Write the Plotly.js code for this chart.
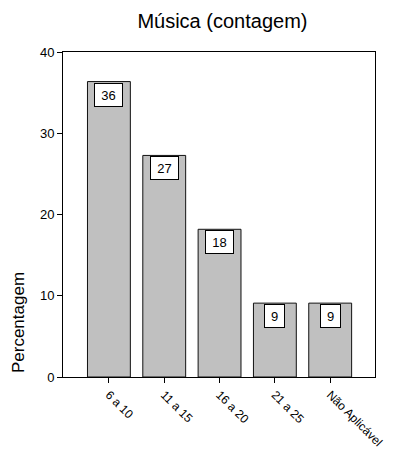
<!DOCTYPE html>
<html>
<head>
<meta charset="utf-8">
<script src="https://cdn.plot.ly/plotly-3.0.1.min.js"></script>
<style>html,body{margin:0;padding:0;background:#fff;}#chart{width:397px;height:450px;}</style>
</head>
<body>
<div id="chart"></div>
<script>
const categories = ["6 a 10", "11 a 15", "16 a 20", "21 a 25", "Não Aplicável"];
const values = [36.36, 27.27, 18.18, 9.09, 9.09];
const valueLabels = ["36", "27", "18", "9", "9"];
const yTicks = [0, 10, 20, 30, 40];
const chartTitle = "Música (contagem)";
const yTitle = "Percentagem";

const font = "Arial, 'Liberation Sans', sans-serif";

const trace = {
  type: "bar",
  x: categories,
  y: values,
  marker: { color: "#c0c0c0", line: { color: "#111", width: 1 } },
  hoverinfo: "none"
};

const labelAnns = categories.map((c, i) => ({
  x: c, y: values[i], xref: "x", yref: "y",
  text: valueLabels[i],
  showarrow: false,
  xanchor: "center", yanchor: "top", yshift: -1,
  bgcolor: "#fff", bordercolor: "#000", borderwidth: 1, borderpad: 2,
  width: valueLabels[i].length * 8 + 7, height: 18,
  font: { family: font, size: 13, color: "#000" }
}));

const layout = {
  width: 397, height: 450,
  margin: { l: 63, r: 22, t: 52, b: 73 },
  paper_bgcolor: "#fff", plot_bgcolor: "#fff",
  showlegend: false,
  bargap: 0.225,
  font: { family: font, color: "#000" },
  title: {
    text: chartTitle, xref: "paper", x: 0.511, xanchor: "center",
    yref: "container", y: 0.953, yanchor: "middle",
    font: { family: font, size: 20, color: "#000" }
  },
  xaxis: {
    type: "category",
    range: [-0.83, 4.81],
    showline: true, linecolor: "#000", linewidth: 1, mirror: true,
    ticks: "outside", ticklen: 5, tickcolor: "#000",
    tickangle: 45,
    tickfont: { family: font, size: 12, color: "#000" },
    showgrid: false, zeroline: false, fixedrange: true
  },
  yaxis: {
    range: [0, 40],
    tickvals: yTicks,
    showline: true, linecolor: "#000", linewidth: 1, mirror: true,
    ticks: "outside", ticklen: 5, tickcolor: "#000",
    tickfont: { family: font, size: 13, color: "#000" },
    showgrid: false, zeroline: false, fixedrange: true
  },
  annotations: labelAnns.concat([{
    text: yTitle, xref: "paper", yref: "paper",
    x: (18.5 - 63) / 313, y: 0.168, xanchor: "center", yanchor: "middle",
    textangle: -90, showarrow: false,
    font: { family: font, size: 17, color: "#000" }
  }])
};

Plotly.newPlot("chart", [trace], layout, { displayModeBar: false, staticPlot: true });
</script>
</body>
</html>
